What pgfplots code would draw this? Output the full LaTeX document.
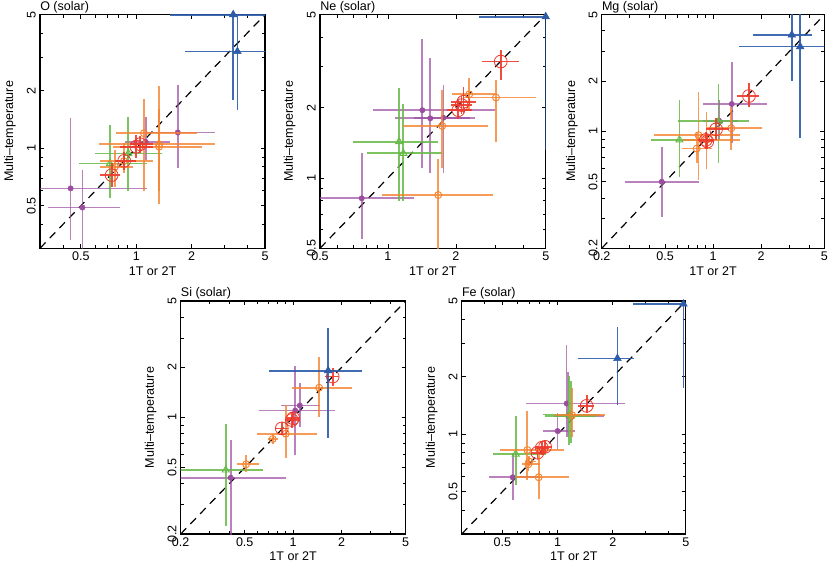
\documentclass[border=0pt]{standalone}
\usepackage{fontspec}
\setmainfont{Liberation Sans}
\usepackage{pgfplots}
\usepackage{pgfplotstable}
\pgfplotsset{compat=1.18}

\definecolor{purp}{HTML}{9B4DA0}
\definecolor{grn}{HTML}{66B847}
\definecolor{org}{HTML}{F5822F}
\definecolor{rd}{HTML}{EE3A2C}
\definecolor{blu}{HTML}{2D5CA8}

\pgfplotsset{
  table/errtab/.style={x=x, y=y,
    x error plus expr=\thisrow{xh}-\thisrow{x},
    x error minus expr=\thisrow{x}-\thisrow{xl},
    y error plus expr=\thisrow{yh}-\thisrow{y},
    y error minus expr=\thisrow{y}-\thisrow{yl}},
  every axis/.append style={
    scale only axis, anchor=south west,
    clip mode=individual,
    axis line style={line width=0.8pt},
    tick align=inside, tick pos=both,
    every tick/.style={black, line width=0.6pt},
    major tick length=3pt, minor tick length=2.3pt,
    xticklabel style={anchor=north, inner sep=2.5pt},
    yticklabel style={rotate=90, anchor=south, inner sep=3pt},
    every axis title/.style={at={(axis description cs:0,1)}, anchor=base west, inner sep=0pt, yshift=3pt},
    every axis y label/.style={at={(axis description cs:-0.134,0.5)}, rotate=90, anchor=center},
    every axis x label/.style={at={(axis description cs:0.5,0)}, anchor=center, yshift=-17pt},
    ylabel={Multi--temperature}, xlabel={1T or 2T},
  },
}

\newcommand{\series}[3]{\addplot[only marks, #2, error bars/.cd, x dir=both, y dir=both, x explicit, y explicit, error mark=none, error bar style={line width=1.3pt, #3}] table[errtab]{#1};}
\newcommand{\pur}[1]{\series{#1}{color=purp, mark=*, mark size=2pt}{color=purp, opacity=0.7}}
\newcommand{\grn}[1]{\series{#1}{color=grn, mark=triangle, mark size=3pt, mark options={line width=0.7pt}}{color=grn, opacity=0.85}}
\newcommand{\org}[1]{\series{#1}{color=org, mark=o, mark size=2.6pt, mark options={line width=0.7pt}}{color=org, opacity=0.8}}
\newcommand{\red}[1]{\series{#1}{color=rd, mark=o, mark size=4.8pt, mark options={line width=0.6pt}}{color=rd, opacity=0.9}}
\newcommand{\blu}[1]{\series{#1}{color=blu, mark=triangle*, mark size=3.3pt}{color=blu, opacity=0.9}}
\newcommand{\diag}[2]{\addplot[black, line width=0.9pt, dash pattern=on 6pt off 4.5pt] coordinates {(#1,#1) (#2,#2)};}

% ---------------- O ----------------
\pgfplotstableread{
x y xl xh yl yh
1.68 1.21 1.14 2.67 0.785 2.15
0.44 0.617 0.28 1.14 0.33 1.44
0.51 0.49 0.33 0.815 0.29 0.77
1.125 1.08 0.87 1.52 0.87 1.46
}\Opur
\pgfplotstableread{
x y xl xh yl yh
0.72 0.834 0.489 1.14 0.547 1.32
0.905 0.94 0.60 1.38 0.60 1.46
}\Ogrn
\pgfplotstableread{
x y xl xh yl yh
1.10 1.20 0.776 2.13 0.60 1.81
1.33 1.05 0.63 2.67 0.514 2.12
1.33 1.02 0.75 2.28 0.60 1.60
0.857 0.857 0.635 1.24 0.74 1.06
0.766 0.80 0.635 0.964 0.63 0.98
}\Oorg
\pgfplotstableread{
x y xl xh yl yh
0.735 0.724 0.635 0.815 0.63 0.834
0.86 0.86 0.766 1.0 0.77 0.96
1.0 1.02 0.815 1.24 0.89 1.17
1.05 1.05 0.92 1.24 0.95 1.16
}\Ored
\pgfplotstableread{
x y xl xh yl yh
3.36 5.0 1.52 6 1.79 6
3.54 3.21 1.85 6 1.59 6
}\Oblu

% ---------------- Ne ----------------
\pgfplotstableread{
x y xl xh yl yh
1.42 1.95 0.855 2.98 1.10 3.92
1.54 1.80 1.07 2.43 1.05 3.25
1.76 1.81 1.30 2.30 1.05 2.50
0.765 0.818 0.48 1.30 0.546 1.275
}\Nepur
\pgfplotstableread{
x y xl xh yl yh
1.12 1.43 0.70 1.67 0.80 2.42
1.17 1.275 0.81 1.74 0.80 2.07
}\Negrn
\pgfplotstableread{
x y xl xh yl yh
3.01 2.21 2.14 4.53 1.43 2.63
2.29 2.28 1.92 2.98 1.95 2.67
1.74 1.67 1.16 2.78 1.10 2.38
1.67 0.845 0.94 2.93 0.45 1.20
}\Neorg
\pgfplotstableread{
x y xl xh yl yh
3.16 3.15 2.60 3.82 2.63 3.53
2.16 2.12 1.90 2.45 1.90 2.45
2.05 1.95 1.82 2.35 1.78 2.15
2.12 2.05 1.90 2.35 1.88 2.25
}\Nered
\pgfplotstableread{
x y xl xh yl yh
5.0 4.9 2.52 6 1.32 6
}\Neblu

% ---------------- Mg ----------------
\pgfplotstableread{
x y xl xh yl yh
1.31 1.46 0.86 2.19 0.85 2.59
1.09 1.16 0.87 1.43 0.89 1.54
0.476 0.50 0.28 0.81 0.309 0.81
}\Mgpur
\pgfplotstableread{
x y xl xh yl yh
1.08 1.15 0.605 1.69 0.65 1.92
0.615 0.89 0.406 1.03 0.537 1.54
}\Mggrn
\pgfplotstableread{
x y xl xh yl yh
1.30 1.045 0.91 2.02 0.77 1.41
0.81 0.95 0.426 1.48 0.513 1.73
0.79 0.79 0.636 0.98 0.645 0.975
0.91 0.89 0.65 1.48 0.60 1.31
}\Mgorg
\pgfplotstableread{
x y xl xh yl yh
1.68 1.63 1.41 1.93 1.41 1.94
1.045 1.03 0.90 1.25 0.89 1.20
0.90 0.89 0.80 1.0 0.79 0.99
0.92 0.87 0.82 1.02 0.78 0.97
}\Mgred
\pgfplotstableread{
x y xl xh yl yh
3.12 3.78 1.79 4.17 2.0 6
3.52 3.22 1.46 6 0.92 6
}\Mgblu

% ---------------- Si ----------------
\pgfplotstableread{
x y xl xh yl yh
1.10 1.18 0.836 1.47 0.88 1.60
1.03 1.10 0.61 1.82 0.596 2.04
0.409 0.435 0.18 0.90 0.18 0.733
}\Sipur
\pgfplotstableread{
x y xl xh yl yh
0.381 0.484 0.18 0.653 0.224 0.914
}\Sigrn
\pgfplotstableread{
x y xl xh yl yh
1.45 1.51 0.98 2.31 1.0 2.32
0.90 0.80 0.60 1.41 0.57 1.19
0.746 0.743 0.70 0.80 0.69 0.80
0.51 0.524 0.446 0.613 0.473 0.596
}\Siorg
\pgfplotstableread{
x y xl xh yl yh
1.76 1.76 1.58 1.94 1.55 1.97
0.98 0.966 0.89 1.10 0.86 1.08
1.0 0.99 0.92 1.08 0.91 1.08
0.85 0.86 0.78 0.93 0.79 0.94
}\Sired
\pgfplotstableread{
x y xl xh yl yh
1.65 1.91 0.71 2.69 0.75 3.43
}\Siblu

% ---------------- Fe ----------------
\pgfplotstableread{
x y xl xh yl yh
1.12 1.45 0.67 2.33 0.97 2.94
1.14 1.25 0.96 1.79 0.97 2.13
1.0 1.04 0.83 1.25 0.84 1.29
0.569 0.595 0.42 0.786 0.452 0.795
}\Fepur
\pgfplotstableread{
x y xl xh yl yh
1.15 1.27 0.83 1.70 0.88 2.02
1.18 1.25 0.85 1.65 0.90 1.90
0.591 0.788 0.443 0.865 0.542 1.24
}\Fegrn
\pgfplotstableread{
x y xl xh yl yh
1.20 1.26 0.97 1.81 0.97 1.74
0.684 0.827 0.486 1.08 0.575 1.32
0.693 0.696 0.637 0.80 0.64 0.76
0.70 0.72 0.66 0.76 0.68 0.77
0.789 0.595 0.59 1.16 0.46 0.86
}\Feorg
\pgfplotstableread{
x y xl xh yl yh
1.44 1.41 1.30 1.57 1.29 1.61
0.855 0.86 0.80 0.93 0.80 0.93
0.82 0.85 0.76 0.90 0.78 0.92
0.776 0.80 0.72 0.85 0.74 0.87
}\Fered
\pgfplotstableread{
x y xl xh yl yh
4.86 4.82 2.59 6 1.74 6
2.12 2.50 1.29 2.62 1.42 3.67
}\Feblu

\begin{document}
\fontsize{9.4pt}{11pt}\selectfont
\begin{tikzpicture}
\path[use as bounding box] (0,0) rectangle (622.5pt,423pt);

\begin{axis}[xmode=log, ymode=log, at={(30pt,236.8pt)}, width=168.75pt, height=175.2pt, title={O (solar)},
  xmin=0.3,xmax=5,ymin=0.3,ymax=5,
  xtick={0.5,1,2,5}, xticklabels={0.5,1,2,5},
  ytick={0.5,1,2,5}, yticklabels={0.5,1,2,5},
  minor xtick={0.3,0.4,0.6,0.7,0.8,0.9,3,4},
  minor ytick={0.3,0.4,0.6,0.7,0.8,0.9,3,4}]
\diag{0.3}{5}
\pur{\Opur}\grn{\Ogrn}\org{\Oorg}\red{\Ored}\blu{\Oblu}
\end{axis}

\begin{axis}[xmode=log, ymode=log, at={(240pt,236.8pt)}, width=169.3pt, height=175.2pt, title={Ne (solar)},
  xmin=0.5,xmax=5,ymin=0.5,ymax=5,
  xtick={0.5,1,2,5}, xticklabels={0.5,1,2,5},
  ytick={0.5,1,2,5}, yticklabels={0.5,1,2,5},
  minor xtick={0.6,0.7,0.8,0.9,3,4},
  minor ytick={0.6,0.7,0.8,0.9,3,4}]
\diag{0.5}{5}
\pur{\Nepur}\grn{\Negrn}\org{\Neorg}\red{\Nered}\blu{\Neblu}
\end{axis}

\begin{axis}[xmode=log, ymode=log, at={(451.3pt,236.8pt)}, width=167pt, height=175.2pt, title={Mg (solar)},
  xmin=0.2,xmax=5,ymin=0.2,ymax=5,
  xtick={0.2,0.5,1,2,5}, xticklabels={0.2,0.5,1,2,5},
  ytick={0.2,0.5,1,2,5}, yticklabels={0.2,0.5,1,2,5},
  minor xtick={0.3,0.4,0.6,0.7,0.8,0.9,3,4},
  minor ytick={0.3,0.4,0.6,0.7,0.8,0.9,3,4}]
\diag{0.2}{5}
\pur{\Mgpur}\grn{\Mggrn}\org{\Mgorg}\red{\Mgred}\blu{\Mgblu}
\end{axis}

\begin{axis}[xmode=log, ymode=log, at={(135.5pt,22.5pt)}, width=168.75pt, height=174.75pt, title={Si (solar)},
  xmin=0.2,xmax=5,ymin=0.2,ymax=5,
  xtick={0.2,0.5,1,2,5}, xticklabels={0.2,0.5,1,2,5},
  ytick={0.2,0.5,1,2,5}, yticklabels={0.2,0.5,1,2,5},
  minor xtick={0.3,0.4,0.6,0.7,0.8,0.9,3,4},
  minor ytick={0.3,0.4,0.6,0.7,0.8,0.9,3,4}]
\diag{0.2}{5}
\pur{\Sipur}\grn{\Sigrn}\org{\Siorg}\red{\Sired}\blu{\Siblu}
\end{axis}

\begin{axis}[xmode=log, ymode=log, at={(346.3pt,22.5pt)}, width=168pt, height=174.75pt, title={Fe (solar)},
  xmin=0.3,xmax=5,ymin=0.3,ymax=5,
  xtick={0.5,1,2,5}, xticklabels={0.5,1,2,5},
  ytick={0.5,1,2,5}, yticklabels={0.5,1,2,5},
  minor xtick={0.3,0.4,0.6,0.7,0.8,0.9,3,4},
  minor ytick={0.3,0.4,0.6,0.7,0.8,0.9,3,4}]
\diag{0.3}{5}
\pur{\Fepur}\grn{\Fegrn}\org{\Feorg}\red{\Fered}\blu{\Feblu}
\end{axis}
\end{tikzpicture}
\end{document}
